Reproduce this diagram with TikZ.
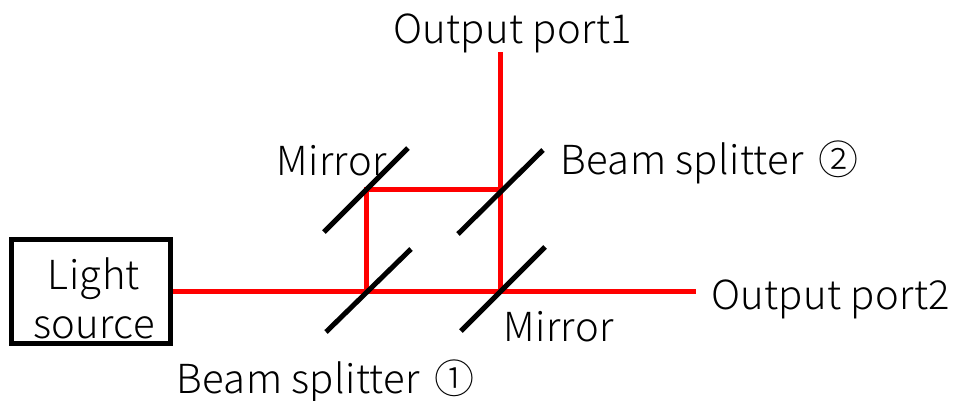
\documentclass[tikz,border=0pt]{standalone}
\usepackage{fontspec}
\setmainfont{Noto Sans CJK JP Light}[LetterSpace=1]
\tikzset{
  lbl/.style={inner sep=0pt,outer sep=0pt,anchor=base west,text=black,font=\fontsize{40}{46}\selectfont},
  srcbox/.style={draw=black,line width=5pt,inner sep=0pt,minimum width=159pt,minimum height=104pt,align=center,text=black,font=\fontsize{40}{49}\selectfont},
  beam/.style={draw=red,line width=5pt},
  optic/.style={draw=black,line width=5pt}
}
\newcommand{\cnum}[1]{\hspace{14pt}{\fontsize{40}{46}\selectfont #1}}
\begin{document}
\begin{tikzpicture}[x=1pt,y=-1pt]
\useasboundingbox (0,0) rectangle (955,400);
% labels
\node[lbl] (lo1) at (393,43) {Output port1};
\node[lbl] (lm1) at (276.5,175) {Mirror};
\node[lbl] (lb2) at (560.5,174) {Beam splitter\cnum{②}};
\node[lbl] (lo2) at (711,309) {Output port2};
\node[lbl] (lm2) at (503.5,341) {Mirror};
\node[lbl] (lb1) at (176.5,393) {Beam splitter\cnum{①}};
\node[srcbox] (src) at (91,291) {\rule{0pt}{46pt}\hspace*{6pt}Light\\\hspace*{6pt}source};
% optical junctions
\coordinate (j1) at (366.5,291);
\coordinate (j2) at (500,291);
\coordinate (j3) at (366.5,189);
\coordinate (j4) at (500,189);
\coordinate (o1) at (500,52);
\coordinate (o2) at (696,291);
% optics end points
\coordinate (m1a) at (324,232); \coordinate (m1b) at (408,148);
\coordinate (b2a) at (458,234); \coordinate (b2b) at (543,150);
\coordinate (b1a) at (326,332); \coordinate (b1b) at (411,249);
\coordinate (m2a) at (461,331); \coordinate (m2b) at (545,247);
% beams
\draw[beam] (src.east) -- (j1) -- (j2) -- (o2);
\draw[beam] (j1) -- (j3) -- (j4) -- (j2);
\draw[beam] (j4) -- (o1);
% mirrors and splitters
\draw[optic] (m1a) -- (m1b);
\draw[optic] (b2a) -- (b2b);
\draw[optic] (b1a) -- (b1b);
\draw[optic] (m2a) -- (m2b);
\end{tikzpicture}
\end{document}
